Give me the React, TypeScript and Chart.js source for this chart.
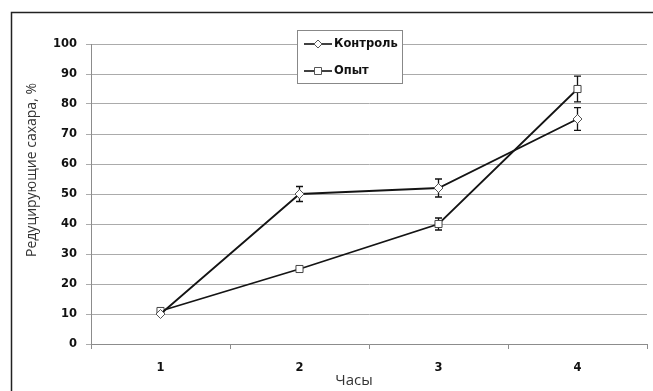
import React, { useEffect, useRef } from 'react';
import { Chart, registerables } from 'chart.js';

Chart.register(...registerables);

const categories = ['1', '2', '3', '4'];
const seriesNames = ['Контроль', 'Опыт'];
const controlValues = [10, 50, 52, 75];
const controlErrors = [0, 2.5, 3, 3.8];
const experimentValues = [11, 25, 40, 85];
const experimentErrors = [0, 0, 2, 4.3];
const yMin = 0;
const yMax = 100;
const yStep = 10;
const yTitle = 'Редуцирующие сахара, %';
const xTitle = 'Часы';

const FONT = '"DejaVu Sans", sans-serif';
const TITLE_FONT = '"Open Sans", sans-serif';

const errorBarsPlugin = {
  id: 'errorBars',
  beforeDatasetsDraw(chart: any) {
    const ctx = chart.ctx;
    const yScale = chart.scales.y;
    const xScale = chart.scales.x;
    ctx.save();
    ctx.strokeStyle = '#111';
    ctx.lineWidth = 1.3;
    chart.data.datasets.forEach((ds: any) => {
      const errs: number[] = ds.errors || [];
      ds.data.forEach((v: number, i: number) => {
        const e = errs[i];
        if (!e) return;
        const x = xScale.getPixelForValue(i);
        const yt = yScale.getPixelForValue(v + e);
        const yb = yScale.getPixelForValue(v - e);
        ctx.beginPath();
        ctx.moveTo(x, yt);
        ctx.lineTo(x, yb);
        ctx.moveTo(x - 3.5, yt);
        ctx.lineTo(x + 3.5, yt);
        ctx.moveTo(x - 3.5, yb);
        ctx.lineTo(x + 3.5, yb);
        ctx.stroke();
      });
    });
    ctx.restore();
  },
};

const decorPlugin = {
  id: 'decor',
  afterDraw(chart: any) {
    const ctx = chart.ctx;
    ctx.save();
    // outer frame
    ctx.strokeStyle = '#222';
    ctx.lineWidth = 1.5;
    ctx.beginPath();
    ctx.moveTo(11.5, 400);
    ctx.lineTo(11.5, 12.5);
    ctx.lineTo(700, 12.5);
    ctx.stroke();

    // y title
    ctx.fillStyle = '#333';
    ctx.font = `14px ${TITLE_FONT}`;
    ctx.textAlign = 'center';
    ctx.textBaseline = 'middle';
    ctx.save();
    ctx.translate(32, 170);
    ctx.rotate(-Math.PI / 2);
    ctx.fillText(yTitle, 0, 0);
    ctx.restore();

    // x title
    ctx.font = `15px ${TITLE_FONT}`;
    ctx.fillText(xTitle, 354, 381);

    // legend
    const lx = 297.5, ly = 30.5, lw = 105, lh = 53;
    ctx.fillStyle = '#fff';
    ctx.fillRect(lx, ly, lw, lh);
    ctx.strokeStyle = '#888';
    ctx.lineWidth = 1;
    ctx.strokeRect(lx, ly, lw, lh);
    const rows = [44, 71];
    chart.data.datasets.forEach((ds: any, i: number) => {
      const y = rows[i];
      ctx.strokeStyle = '#111';
      ctx.lineWidth = 1.6;
      ctx.beginPath();
      ctx.moveTo(304, y);
      ctx.lineTo(332, y);
      ctx.stroke();
      ctx.fillStyle = '#fff';
      ctx.strokeStyle = '#555';
      ctx.lineWidth = 1;
      ctx.beginPath();
      if (ds.pointStyle === 'rectRot') {
        ctx.moveTo(318, y - 4);
        ctx.lineTo(322, y);
        ctx.lineTo(318, y + 4);
        ctx.lineTo(314, y);
        ctx.closePath();
      } else {
        ctx.rect(314.5, y - 3.5, 7, 7);
      }
      ctx.fill();
      ctx.stroke();
      ctx.fillStyle = '#111';
      ctx.font = `bold 11.5px ${FONT}`;
      ctx.textAlign = 'left';
      ctx.textBaseline = 'middle';
      ctx.fillText(ds.label, 334, y);
    });
    ctx.restore();
  },
};

export default function App() {
  const ref = useRef<HTMLCanvasElement>(null);
  useEffect(() => {
    if (!ref.current) return;
    const chart = new Chart(ref.current, {
      type: 'line',
      data: {
        labels: categories,
        datasets: [
          {
            label: seriesNames[0],
            data: controlValues,
            errors: controlErrors,
            borderColor: '#141414',
            borderWidth: 1.8,
            pointStyle: 'rectRot',
            pointRadius: 4.5,
            pointBackgroundColor: '#fff',
            pointBorderColor: '#555',
            pointBorderWidth: 1,
            tension: 0,
          } as any,
          {
            label: seriesNames[1],
            data: experimentValues,
            errors: experimentErrors,
            borderColor: '#141414',
            borderWidth: 1.8,
            pointStyle: 'rect',
            pointRadius: 5,
            pointBackgroundColor: '#fff',
            pointBorderColor: '#444',
            pointBorderWidth: 1,
            tension: 0,
          } as any,
        ],
      },
      options: {
        animation: false,
        responsive: false,
        devicePixelRatio: 1,
        layout: { padding: { left: 0, top: 44, right: 1, bottom: 0 } },
        plugins: {
          legend: { display: false },
          title: { display: false },
          tooltip: { enabled: false },
        },
        scales: {
          x: {
            type: 'category',
            offset: true,
            grid: {
              offset: true,
              drawOnChartArea: false,
              drawTicks: true,
              tickLength: 5,
              color: '#8c8c8c',
            },
            border: { color: '#8c8c8c', width: 1 },
            ticks: {
              color: '#111',
              font: { family: FONT, size: 11.5, weight: 'bold' },
              padding: 12,
              maxRotation: 0,
            },
            afterFit: (axis: any) => {
              axis.height = 47;
            },
          },
          y: {
            min: yMin,
            max: yMax,
            ticks: {
              stepSize: yStep,
              color: '#111',
              font: { family: FONT, size: 11.5, weight: 'bold' },
              padding: 9,
            },
            grid: {
              color: '#ababab',
              tickLength: 5,
            },
            border: { color: '#8c8c8c', width: 1 },
            afterFit: (axis: any) => {
              axis.width = 91;
            },
          },
        },
      },
      plugins: [errorBarsPlugin, decorPlugin],
    });
    return () => chart.destroy();
  }, []);
  return (
    <div style={{ position: 'absolute', left: 0, top: 0, width: 653, height: 391, background: '#fff' }}>
      <canvas ref={ref} width={653} height={391} />
    </div>
  );
}
